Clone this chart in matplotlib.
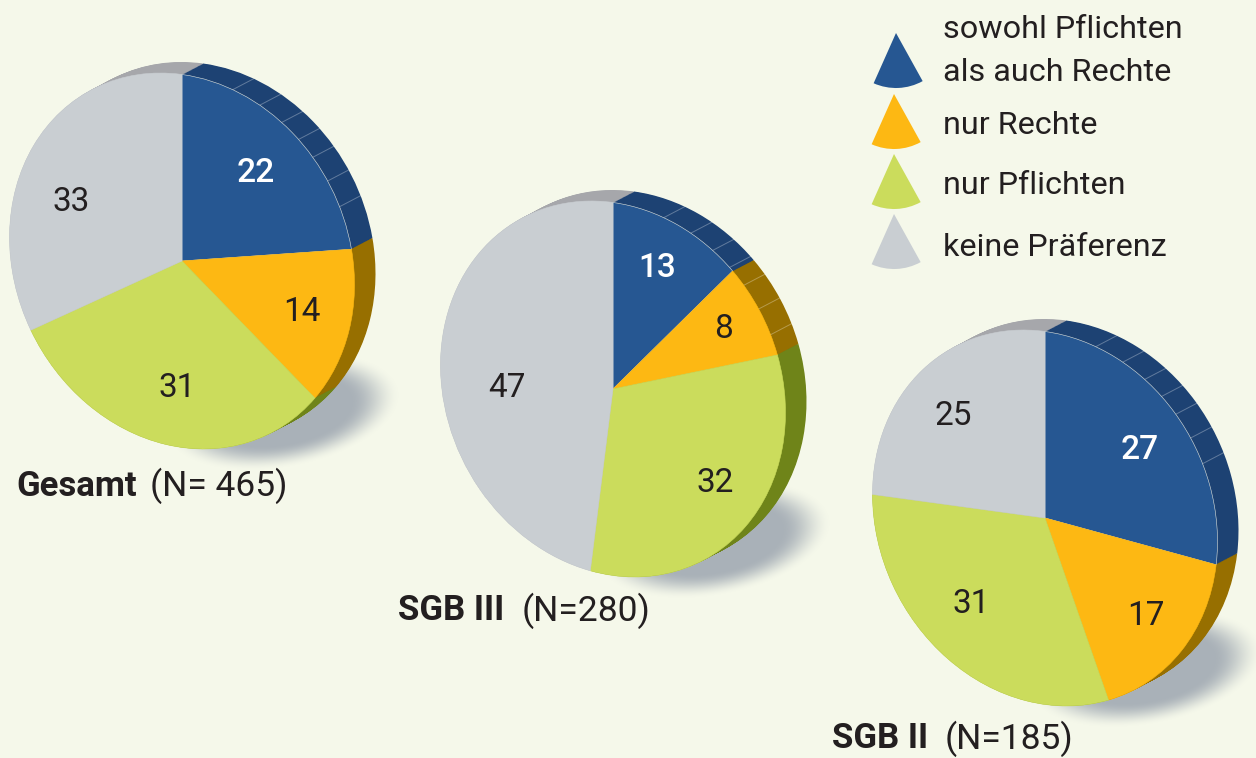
import matplotlib
matplotlib.use("Agg")
import matplotlib.pyplot as plt
import numpy as np
from matplotlib.patches import Wedge
from matplotlib.transforms import Affine2D

plt.rcParams['font.family'] = ['Roboto', 'DejaVu Sans']

# data
categories = ["sowohl Pflichten\nals auch Rechte", "nur Rechte", "nur Pflichten", "keine Präferenz"]
gesamt = [22, 14, 31, 33]
sgb3 = [13, 8, 32, 47]
sgb2 = [27, 17, 31, 25]
# slice sizes of SGB III as drawn in the picture, a little off its printed numbers
sgb3_drawn = [12.2, 7.9, 32, 47.9]
groups = ["Gesamt", "SGB III", "SGB II"]
sample_labels = ["(N= 465)", "(N=280)", "(N=185)"]
rim_tick_deg = [17.1, 26.8, 35.3, 42.5, 49.3, 57.6, 66]

# colours
bg = "#f5f8ea"
face_cols = ["#265792", "#fdb813", "#cbdc5c", "#c9ced2"]
rim_cols = ["#1d4273", "#976f00", "#6f8419", "#a6a7ab"]
ink = "#231f20"

# layout in pixels
centers = [(182, 261), (613, 389), (1045, 518)]
rx, ry, skew = 172.5, 186.5, 23.6
depth = (21, -11)
label_pos = [
    [(256, 173), (302, 312), (177, 388), (71, 202)],
    [(657, 268), (724, 329), (715, 483), (507, 388)],
    [(1140, 450), (1146, 616), (971, 604), (953, 416)],
]
caption_pos = [(16, 150, 486), (398, 522, 611), (832, 945, 739)]
legend_apex = [(896, 33), (894, 94), (894, 154), (894, 214)]
legend_text = [(943, 51), (943, 126), (943, 186), (943, 247)]

fig = plt.figure(figsize=(12.56, 7.58), dpi=100, facecolor=bg)
ax = fig.add_axes([0, 0, 1, 1])


def pie_tf(cx, cy):
    return Affine2D.from_values(rx, skew, 0, -ry, cx, cy) + ax.transData


def draw_shadow(cx, cy):
    sx, sy = cx + 100, cy + 150
    xx, yy = np.meshgrid(np.arange(sx - 140, sx + 140), np.arange(sy - 90, sy + 90))
    u = (xx - sx) / 118
    v = ((yy - sy) + 0.14 * (xx - sx)) / 57
    r = np.sqrt(u ** 2 + v ** 2)
    a = np.clip((1 - r) / 0.42, 0, 1)
    a = a * a * (3 - 2 * a)
    rgba = np.zeros(r.shape + (4,))
    rgba[..., :3] = matplotlib.colors.to_rgb("#a9b1b8")
    rgba[..., 3] = a
    ax.imshow(rgba, extent=(sx - 140, sx + 140, sy + 90, sy - 90), zorder=1)


all_values = [gesamt, sgb3, sgb2]
all_drawn = [gesamt, sgb3_drawn, sgb2]
for i, values in enumerate(all_values):
    cx, cy = centers[i]
    draw_shadow(cx, cy)

    # side of the disc, stacked from back to front
    for t in np.linspace(1, 0, 26):
        wedges, _ = ax.pie(all_drawn[i], colors=rim_cols, startangle=90, counterclock=False,
                           radius=1, wedgeprops=dict(linewidth=0))
        for w in wedges:
            w.set_transform(pie_tf(cx + depth[0] * t, cy + depth[1] * t))
            w.set_zorder(2)

    # small dividers on the side
    for th in np.radians(rim_tick_deg):
        x0 = cx + rx * np.sin(th)
        y0 = cy + skew * np.sin(th) - ry * np.cos(th)
        ax.plot([x0, x0 + depth[0]], [y0, y0 + depth[1]], color="white", alpha=0.3, lw=0.7, zorder=3)

    wedges, _ = ax.pie(all_drawn[i], colors=face_cols, startangle=90, counterclock=False,
                       radius=1, wedgeprops=dict(linewidth=0.4, edgecolor="#dfe3dc"))
    for k, w in enumerate(wedges):
        w.set_transform(pie_tf(cx, cy))
        w.set_zorder(4)
        if k > 0:
            w.set_edgecolor(face_cols[k])

    for k, v in enumerate(values):
        x, y = label_pos[i][k]
        if k == 0:
            ax.text(x, y, str(v), color="white", fontsize=24, fontweight="medium",
                    ha="center", va="center", zorder=5)
        else:
            ax.text(x, y, str(v), color=ink, fontsize=24, ha="center", va="center", zorder=5)

    x1, x2, y = caption_pos[i]
    ax.text(x1, y, groups[i], color=ink, fontsize=25, fontweight="bold", ha="left", va="center", zorder=5)
    ax.text(x2, y, sample_labels[i], color=ink, fontsize=25.5, ha="left", va="center", zorder=5)

# legend
for k, name in enumerate(categories):
    ax.add_patch(Wedge(legend_apex[k], 55, 61, 114, facecolor=face_cols[k], edgecolor="none", zorder=5))
    ax.text(legend_text[k][0], legend_text[k][1], name, color=ink, fontsize=23.3, ha="left", va="center",
            linespacing=1.58, zorder=5)

ax.set_aspect("auto")
ax.set_xlim(0, 1256)
ax.set_ylim(758, 0)
ax.axis("off")

fig.savefig("out.png", dpi=100, facecolor=bg)
